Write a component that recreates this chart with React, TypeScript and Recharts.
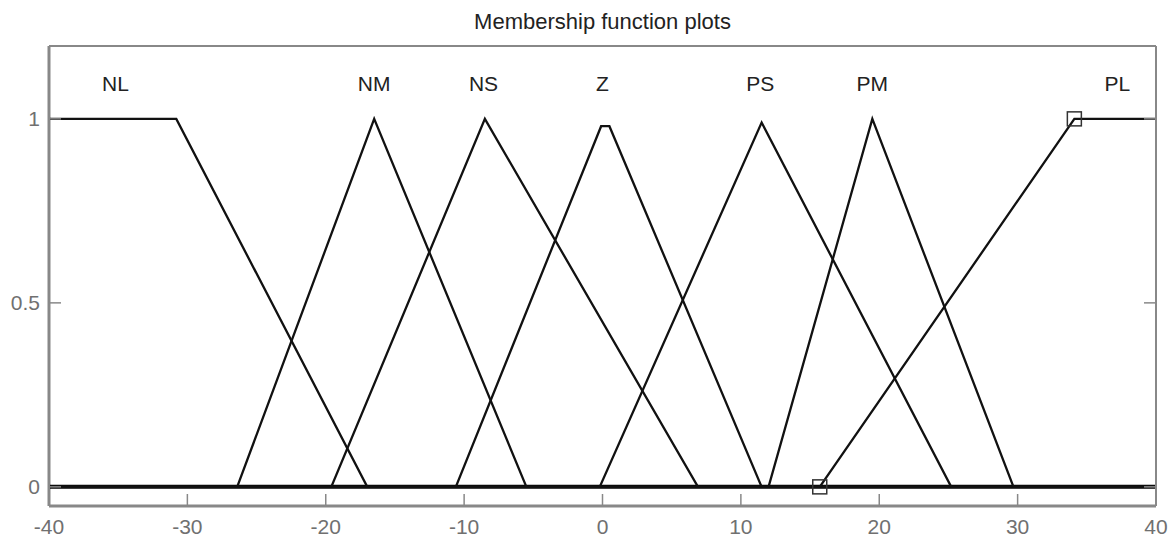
import React from 'react';
import {
  ComposedChart,
  Line,
  Scatter,
  XAxis,
  YAxis,
  ReferenceLine,
  ReferenceDot,
} from 'recharts';

// membership functions, breakpoints as [x, mu]
const NL = [[-40, 1], [-30.8, 1], [-17, 0], [40, 0]];
const NM = [[-40, 0], [-26.4, 0], [-16.5, 1], [-5.5, 0], [40, 0]];
const NS = [[-40, 0], [-19.6, 0], [-8.5, 1], [6.9, 0], [40, 0]];
const Z = [[-40, 0], [-10.6, 0], [-0.1, 0.98], [0.5, 0.98], [11.5, 0], [40, 0]];
const PS = [[-40, 0], [-0.2, 0], [11.5, 0.99], [25.2, 0], [40, 0]];
const PM = [[-40, 0], [12, 0], [19.5, 1], [29.7, 0], [40, 0]];
const PL = [[-40, 0], [15.7, 0], [34.1, 1], [40, 1]];

const mfNames = ['NL', 'NM', 'NS', 'Z', 'PS', 'PM', 'PL'];
const mfSets = [NL, NM, NS, Z, PS, PM, PL];
const labelX = [-35.2, -16.5, -8.6, 0, 11.4, 19.5, 37.2];
const labelY = 1.095;

const markerX = [15.7, 34.1];
const markerY = [0, 1];

const xDomain = [-40, 40];
const yDomain = [-0.052, 1.198];
const xTicks = [-40, -30, -20, -10, 0, 10, 20, 30, 40];
const yTicks = [0, 0.5, 1];

const toPoints = (pts: number[][]) => pts.map(([x, y]) => ({ x, y }));
const markers = markerX.map((x, i) => ({ x, y: markerY[i] }));

const FONT = '"Liberation Sans", Arial, sans-serif';
const AXIS = '#888';
const LABEL = '#707070';
const TICK_LEN = 12;
const X_MARGIN = 13;
const Y_MARGIN = 9;

const BottomTick = (props: any) => {
  const { x, y, payload } = props;
  const axisY = y - X_MARGIN;
  return (
    <g>
      <line x1={x} x2={x} y1={axisY} y2={axisY - TICK_LEN} stroke={AXIS} strokeWidth={1.5} />
      <text x={x} y={y} dy="0.71em" textAnchor="middle" fill={LABEL} fontSize={21} fontFamily={FONT}>
        {payload.value}
      </text>
    </g>
  );
};

const TopTick = (props: any) => {
  const { x, y } = props;
  return <line x1={x} x2={x} y1={y} y2={y + TICK_LEN} stroke={AXIS} strokeWidth={1.5} />;
};

const LeftTick = (props: any) => {
  const { x, y, payload } = props;
  const axisX = x + Y_MARGIN;
  return (
    <g>
      <line x1={axisX} x2={axisX + TICK_LEN} y1={y} y2={y} stroke={AXIS} strokeWidth={1.5} />
      <text x={x} y={y} dy="0.36em" textAnchor="end" fill={LABEL} fontSize={21} fontFamily={FONT}>
        {payload.value}
      </text>
    </g>
  );
};

const RightTick = (props: any) => {
  const { x, y } = props;
  return <line x1={x} x2={x - TICK_LEN} y1={y} y2={y} stroke={AXIS} strokeWidth={1.5} />;
};

const Square = (props: any) => {
  const { cx, cy } = props;
  return <rect x={cx - 7} y={cy - 7} width={14} height={14} fill="none" stroke="#333" strokeWidth={1.5} />;
};

export default function App() {
  return (
    <div style={{ position: 'absolute', left: 0, top: 0, width: 1175, height: 540, background: '#fff' }}>
      <div
        style={{
          position: 'absolute',
          left: 49,
          top: 11,
          width: 1107,
          textAlign: 'center',
          fontFamily: FONT,
          fontSize: 22,
          lineHeight: '22px',
          color: '#222',
        }}
      >
        Membership function plots
      </div>
      <ComposedChart width={1175} height={540} margin={{ top: 45, right: 18, bottom: 0, left: 0 }}>
        <XAxis
          dataKey="x"
          type="number"
          domain={xDomain}
          ticks={xTicks}
          height={34}
          tickSize={0}
          tickMargin={X_MARGIN}
          tickLine={false}
          tick={BottomTick}
          axisLine={{ stroke: AXIS, strokeWidth: 2 }}
          allowDataOverflow
        />
        <XAxis
          xAxisId="top"
          orientation="top"
          type="number"
          domain={xDomain}
          ticks={xTicks}
          height={1}
          tickSize={0}
          tickMargin={0}
          tickLine={false}
          tick={TopTick}
          axisLine={{ stroke: AXIS, strokeWidth: 2 }}
          allowDataOverflow
        />
        <YAxis
          dataKey="y"
          type="number"
          domain={yDomain}
          ticks={yTicks}
          width={49}
          tickSize={0}
          tickMargin={Y_MARGIN}
          tickLine={false}
          tick={LeftTick}
          axisLine={{ stroke: AXIS, strokeWidth: 2 }}
          allowDataOverflow
        />
        <YAxis
          yAxisId="right"
          orientation="right"
          type="number"
          domain={yDomain}
          ticks={yTicks}
          width={1}
          tickSize={0}
          tickMargin={0}
          tickLine={false}
          tick={RightTick}
          axisLine={{ stroke: AXIS, strokeWidth: 2 }}
          allowDataOverflow
        />
        {/* left and bottom edges of the axes box */}
        <ReferenceLine x={xDomain[0]} stroke={AXIS} strokeWidth={3} ifOverflow="visible" />
        <ReferenceLine y={yDomain[0]} stroke={AXIS} strokeWidth={3} ifOverflow="visible" />
        <ReferenceLine y={0} stroke="#000" strokeWidth={4} ifOverflow="visible" />
        {mfSets.map((set, i) => (
          <Line
            key={mfNames[i]}
            data={toPoints(set)}
            dataKey="y"
            type="linear"
            stroke="#111"
            strokeWidth={2.3}
            dot={false}
            activeDot={false}
            isAnimationActive={false}
          />
        ))}
        <Scatter data={markers} dataKey="y" shape={Square} isAnimationActive={false} />
        {mfNames.map((name, i) => (
          <ReferenceDot
            key={`lbl-${name}`}
            x={labelX[i]}
            y={labelY}
            r={0}
            fill="none"
            stroke="none"
            label={{ value: name, position: 'center', fill: '#222', fontSize: 21, fontFamily: FONT }}
          />
        ))}
      </ComposedChart>
    </div>
  );
}
